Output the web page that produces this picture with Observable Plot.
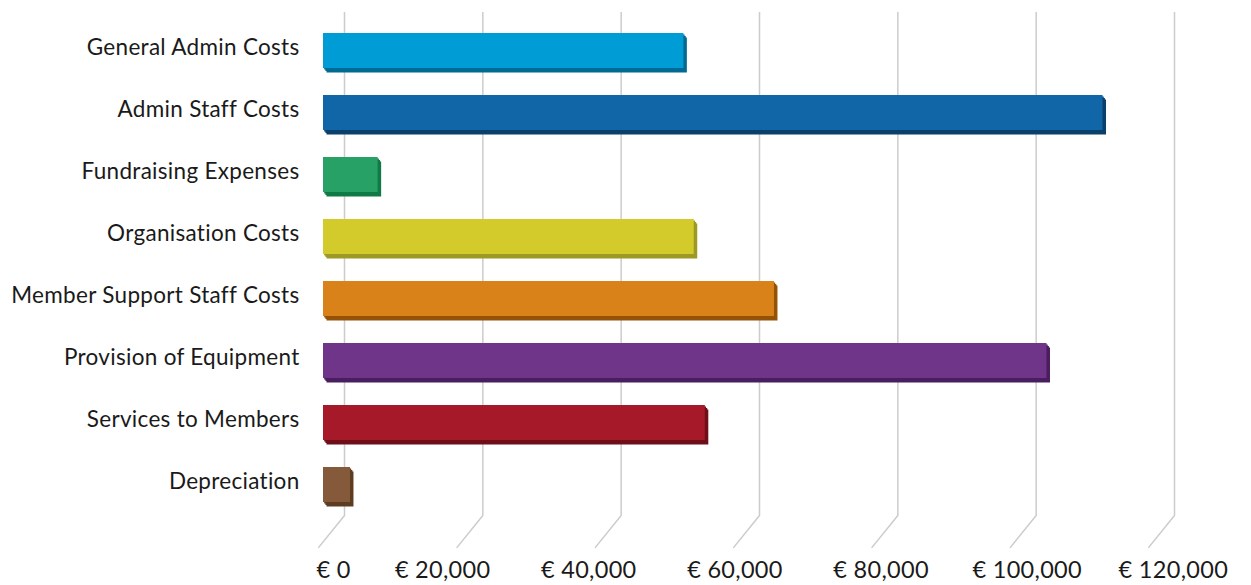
<!DOCTYPE html>
<html>
<head>
<meta charset="utf-8">
<script src="https://cdn.jsdelivr.net/npm/d3@7"></script>
<script src="https://cdn.jsdelivr.net/npm/@observablehq/plot@0.6"></script>
<style>
  html, body { margin: 0; padding: 0; background: #ffffff; }
  #chart svg { display: block; }
  #chart svg text { font-weight: 400; letter-spacing: 0.3px; }
</style>
</head>
<body>
<div id="chart"></div>
<script>
// ---- data ----
const categories = [
  "General Admin Costs",
  "Admin Staff Costs",
  "Fundraising Expenses",
  "Organisation Costs",
  "Member Support Staff Costs",
  "Provision of Equipment",
  "Services to Members",
  "Depreciation"
];
const values = [52100, 112700, 7900, 53600, 65200, 104600, 55200, 3900];
const tickValues = [0, 20000, 40000, 60000, 80000, 100000, 120000];

// ---- palette ----
const faceColors = ["#009cd6", "#1066a6", "#27a165", "#d3ca2b", "#d98219", "#6f3589", "#a61928", "#845a3a"];
const sideColors = ["#006a92", "#0a406c", "#0f7a45", "#9e9824", "#945206", "#4a1d5e", "#6e0e19", "#5e3c22"];

const rows = categories.map((name, i) => ({name, value: values[i], face: faceColors[i], side: sideColors[i]}));
const fmt = d => "€ " + d3.format(",")(d);

const FONT = "Lato, 'Open Sans', sans-serif";
const gridColor = "#cccccc";
const lineShape = {draw(context, l) { context.moveTo(0, 0); context.lineTo(0, -l); }};

const depth = [[1.2, 1.5], [2.4, 3], [3.5, 4.5]];

const chart = Plot.plot({
  width: 1251,
  height: 585,
  marginLeft: 323,
  marginRight: 98,
  marginTop: 12,
  marginBottom: 70,
  style: {fontFamily: FONT, fontSize: "22px", color: "#1a1a1a", background: "#fff"},
  x: {domain: [0, 120000], axis: null},
  y: {domain: categories, range: [16, 519], paddingInner: 0.43, paddingOuter: 0.215, axis: null},
  color: {type: "identity"},
  marks: [
    // back-wall gridlines
    Plot.ruleX(tickValues, {x: d => d, dx: 21, stroke: gridColor, strokeWidth: 1.5}),
    // floor diagonals
    Plot.vector(tickValues, {x: d => d, frameAnchor: "bottom", dx: 21, length: 41, rotate: 219, anchor: "start",
      shape: lineShape, stroke: gridColor, strokeWidth: 1.5}),
    // bar depth (extrusion)
    ...depth.map(([dx, dy]) => Plot.barX(rows, {x: "value", y: "name", fill: "side", dx, dy})),
    // bar front faces
    Plot.barX(rows, {x: "value", y: "name", fill: "face"}),
    // category labels
    Plot.axisY({tickSize: 0, tickPadding: 24, fontSize: 22.5, fill: "#1a1a1a", label: null, dy: -3}),
    // value axis labels
    Plot.text(tickValues.slice(0, 1), {x: d => d, text: fmt, frameAnchor: "bottom", dx: 10, dy: 55,
      lineAnchor: "middle", fontSize: 23.5, fill: "#1a1a1a"}),
    Plot.text(tickValues.slice(1), {x: d => d * 146 / 138.2, text: fmt, frameAnchor: "bottom", dx: -27, dy: 55,
      lineAnchor: "middle", fontSize: 23.5, fill: "#1a1a1a"})
  ]
});
document.getElementById("chart").append(chart);
</script>
</body>
</html>
